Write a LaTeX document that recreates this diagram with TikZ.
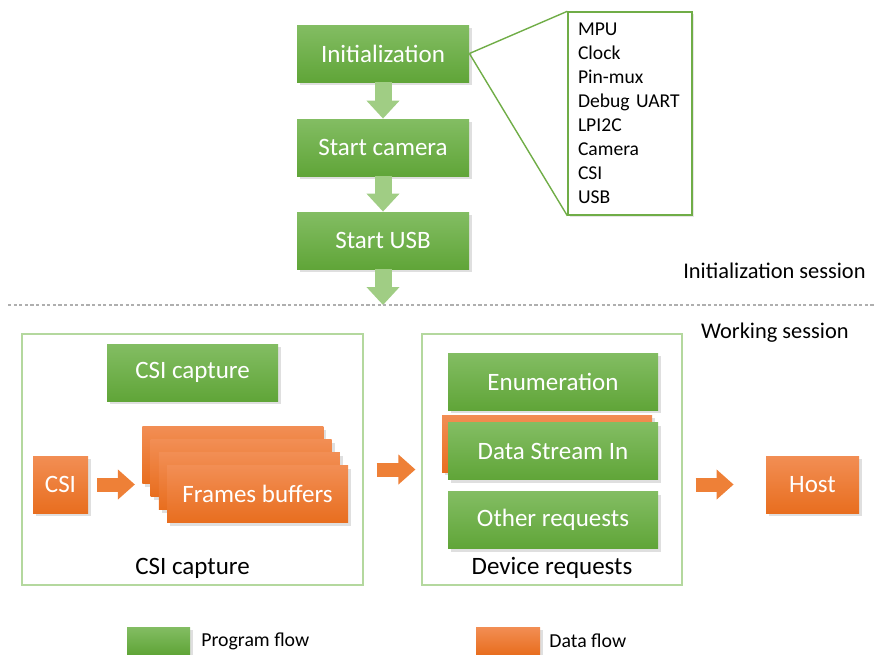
\documentclass[tikz,border=0pt]{standalone}
\usepackage{fontspec}
\setmainfont{Carlito}
\usetikzlibrary{shadows,arrows.meta}

\begin{document}
\begin{tikzpicture}[x=0.5pt,y=-0.5pt,font=\rmfamily]

\useasboundingbox (0,0) rectangle (876,654);

\definecolor{prog_top}{RGB}{131,189,99}
\definecolor{prog_bottom}{RGB}{96,165,56}
\definecolor{data_top}{RGB}{242,142,84}
\definecolor{data_bottom}{RGB}{232,110,31}
\definecolor{step_arrow}{RGB}{160,205,132}
\definecolor{data_arrow}{RGB}{238,128,55}
\definecolor{box_draw}{RGB}{180,216,158}
\definecolor{list_draw}{RGB}{112,173,71}
\definecolor{sep_draw}{RGB}{175,175,175}

\tikzstyle{prog_node_style}=[rectangle, top color=prog_top, bottom color=prog_bottom, text=white, inner sep=0, minimum height=28.5pt, font=\fontsize{12.5}{15}\selectfont, drop shadow={opacity=0.25, shadow xshift=1.5pt, shadow yshift=-1.5pt}]
\tikzstyle{data_node_style}=[rectangle, top color=data_top, bottom color=data_bottom, text=white, inner sep=0, minimum height=28.5pt, font=\fontsize{12.5}{15}\selectfont, drop shadow={opacity=0.25, shadow xshift=1.5pt, shadow yshift=-1.5pt}]
\tikzstyle{group_node_style}=[rectangle, draw=box_draw, line width=0.6pt, inner sep=0, minimum height=125.5pt]
\tikzstyle{label_style}=[inner sep=0, text=black, font=\fontsize{12.5}{15}\selectfont]
\tikzstyle{session_style}=[inner sep=0, anchor=east, text=black, font=\fontsize{11.2}{13}\selectfont]
\tikzstyle{legend_style}=[inner sep=0, anchor=west, text=black, font=\fontsize{9.9}{12}\selectfont]

\tikzstyle{step_edge_style}=[draw=step_arrow, line width=8.5pt, -{Triangle[width=16pt,length=9pt]}]
\tikzstyle{data_edge_style}=[draw=data_arrow, line width=7pt, -{Triangle[width=14.5pt,length=8.5pt]}]

% initialization session
\node(init) at (383,53.5) [prog_node_style, minimum width=86pt] {Initialization};

\node(camera) at (383,147.5) [prog_node_style, minimum width=86pt] {Start camera};

\node(usb) at (383,240.5) [prog_node_style, minimum width=86pt] {Start USB};

\coordinate(usbend) at (383,305);

\node(initlist) at (630,113.5) [rectangle, draw=list_draw, line width=0.7pt, fill=white, minimum width=62pt, minimum height=101.5pt, text width=52pt, inner sep=5pt, align=left, font=\fontsize{9.8}{12}\selectfont, drop shadow={opacity=0.2, shadow xshift=1.2pt, shadow yshift=-1.2pt}] {MPU\\Clock\\Pin-mux\\Debug UART\\LPI2C\\Camera\\CSI\\USB};

\draw[list_draw, line width=0.7pt] (init.east) -- (initlist.north west);
\draw[list_draw, line width=0.7pt] (init.east) -- (initlist.south west);

\draw[step_edge_style] (init) -- (camera);
\draw[step_edge_style] (camera) -- (usb);
\draw[step_edge_style] (usb) -- (usbend);

\node(initsession) at (866,271) [session_style] {Initialization session};

\draw[sep_draw, line width=0.6pt, dash pattern=on 1.6pt off 1.2pt] (8,305) -- (876,305);

\node(worksession) at (849,333) [session_style] {Working session};

% working session
\node(capturebox) at (192.5,459.5) [group_node_style, minimum width=170.5pt] {};
\node(capturename) at (192.5,568) [label_style] {CSI capture};

\node(capture) at (192.5,372.5) [prog_node_style, minimum width=85.5pt] {CSI capture};

\node(csi) at (60.5,484.5) [data_node_style, minimum width=27.5pt] {CSI};

\foreach \i in {1,...,3}
  \node(fb\i) at (224.5+8.3*\i,442+13*\i) [data_node_style, minimum width=90.5pt] {};
\node(fb4) at (257.5,494) [data_node_style, minimum width=90.5pt] {Frames buffers};

\node(requestbox) at (552,459.5) [group_node_style, minimum width=130pt] {};
\node(requestname) at (552,568) [label_style] {Device requests};

\node(enum) at (553,381.5) [prog_node_style, minimum width=105pt] {Enumeration};
\node(streamdata) at (547,443.5) [data_node_style, minimum width=105pt] {};
\node(stream) at (553,451) [prog_node_style, minimum width=105pt] {Data Stream In};
\node(other) at (553,520) [prog_node_style, minimum width=105pt] {Other requests};

\node(host) at (812.5,484.5) [data_node_style, minimum width=46.5pt] {Host};

\draw[data_edge_style, shorten <=4.5pt, shorten >=3.5pt] (csi.east) -- (fb1.west |- csi.east);
\draw[data_edge_style, shorten <=6.5pt, shorten >=3pt] ([yshift=-5pt]capturebox.east) -- ([yshift=-5pt]requestbox.west);
\draw[data_edge_style, shorten <=6.5pt, shorten >=16pt] (requestbox.east |- host) -- (host.west);

% legend
\node(proglegend) at (158.5,640.5) [prog_node_style, minimum width=31.5pt, minimum height=13.5pt] {};
\node(progtext) at (201,641) [legend_style] {Program flow};

\node(datalegend) at (508,640.5) [data_node_style, minimum width=32pt, minimum height=13.5pt] {};
\node(datatext) at (549,641) [legend_style] {Data flow};

\end{tikzpicture}
\end{document}
